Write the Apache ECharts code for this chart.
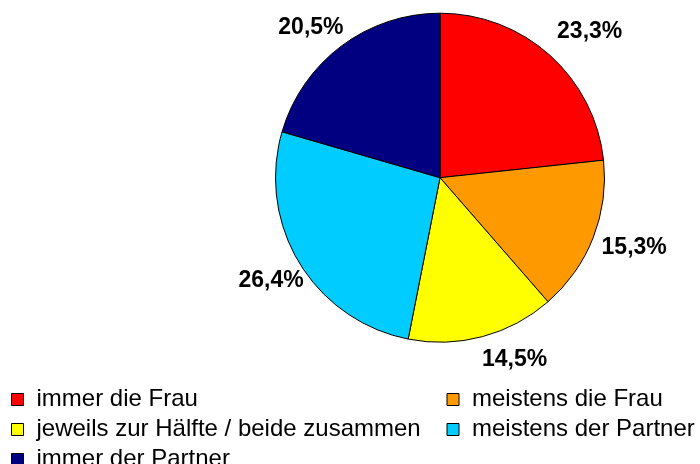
<!DOCTYPE html>
<html>
<head>
<meta charset="utf-8">
<script src="https://cdn.jsdelivr.net/npm/echarts@6/dist/echarts.min.js"></script>
<style>
html,body{margin:0;padding:0;background:#fff;}
#chart{width:700px;height:464px;}
</style>
</head>
<body>
<div id="chart"></div>
<script>
const categories = ['immer die Frau', 'meistens die Frau', 'jeweils zur Hälfte / beide zusammen', 'meistens der Partner', 'immer der Partner'];
const values = [23.3, 15.3, 14.5, 26.4, 20.5];
const colors = ['#FF0000', '#FF9900', '#FFFF00', '#00CCFF', '#000080'];
const legendLeft = ['immer die Frau', 'jeweils zur Hälfte / beide zusammen', 'immer der Partner'];
const legendRight = ['meistens die Frau', 'meistens der Partner'];

const chart = echarts.init(document.getElementById('chart'));
const fmt = p => p.value.toFixed(1).replace('.', ',') + '%';
const pieData = categories.map((c, i) => ({ name: c, value: values[i], itemStyle: { color: colors[i] } }));
// small "best fit" nudges of the data labels, like the original spreadsheet placement
const labelNudge = [[16, 3], [8, -3], [23, -11], [2, -1], [-9, 10]];
const labelData = categories.map((c, i) => ({ name: c, value: values[i], label: { offset: labelNudge[i] } }));

const legendCommon = {
  orient: 'vertical',
  icon: 'rect',
  padding: 0,
  itemWidth: 12,
  itemHeight: 12,
  itemGap: 6,
  height: 100,
  selectedMode: false,
  itemStyle: { borderColor: '#000', borderWidth: 1 },
  textStyle: { fontFamily: 'Liberation Sans, Arial, sans-serif', fontSize: 24, lineHeight: 23, color: '#000', padding: [0, 0, 0, 8] }
};

chart.setOption({
  animation: false,
  backgroundColor: '#fff',
  color: colors,
  legend: [
    Object.assign({}, legendCommon, { data: legendLeft, left: 11, top: 387.5 }),
    Object.assign({}, legendCommon, { data: legendRight, left: 446.5, top: 387.5 })
  ],
  series: [
    {
      type: 'pie',
      center: [440, 177.7],
      radius: [0, 164.5],
      startAngle: 90,
      clockwise: true,
      silent: true,
      label: { show: false },
      labelLine: { show: false },
      itemStyle: { borderColor: '#000', borderWidth: 1 },
      data: pieData
    },
    {
      type: 'pie',
      center: [440, 177.7],
      radius: [0, 394],
      startAngle: 90,
      clockwise: true,
      silent: true,
      avoidLabelOverlap: false,
      itemStyle: { color: 'rgba(0,0,0,0)', borderWidth: 0 },
      label: {
        show: true,
        position: 'inside',
        formatter: fmt,
        fontFamily: 'Liberation Sans, Arial, sans-serif',
        fontSize: 23,
        fontWeight: 'bold',
        color: '#000'
      },
      labelLine: { show: false },
      data: labelData
    }
  ]
});
</script>
</body>
</html>
